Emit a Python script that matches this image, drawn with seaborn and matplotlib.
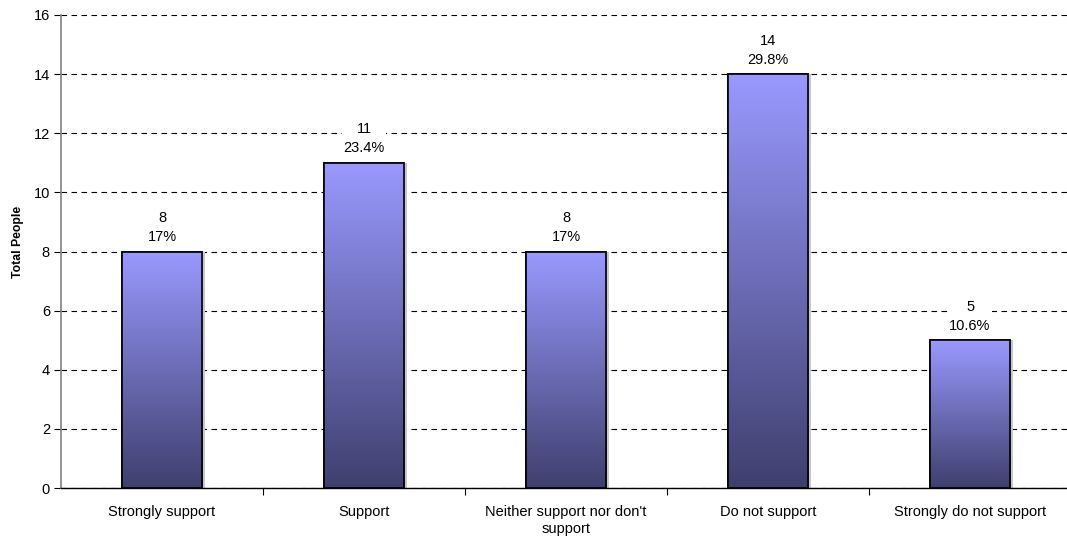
import matplotlib
matplotlib.use("Agg")
import matplotlib.pyplot as plt
import numpy as np
import pandas as pd
import seaborn as sns
from matplotlib.colors import LinearSegmentedColormap
from matplotlib.patches import Rectangle

categories = ["Strongly support", "Support", "Neither support nor don't\nsupport",
              "Do not support", "Strongly do not support"]
counts = [8, 11, 8, 14, 5]
percents = ["17%", "23.4%", "17%", "29.8%", "10.6%"]

df = pd.DataFrame({"category": categories, "count": counts})

sns.set_style("white")
plt.rcParams["font.family"] = ["Liberation Sans", "DejaVu Sans"]
plt.rcParams["text.color"] = "black"
plt.rcParams["xtick.color"] = "black"
plt.rcParams["ytick.color"] = "black"
plt.rcParams["axes.labelcolor"] = "black"

fig = plt.figure(figsize=(10.67, 5.41), dpi=100)
ax = fig.add_axes([61 / 1067, 1 - 488 / 541, 1 - 61 / 1067, (488 - 15) / 541])

sns.barplot(data=df, x="category", y="count", ax=ax, width=0.4,
            color="#9999ff", edgecolor="black", linewidth=1.2, zorder=3)

cmap = LinearSegmentedColormap.from_list("grad", ["#3f3f6e", "#9999ff"])
grad = np.linspace(0, 1, 256).reshape(-1, 1)
for p in ax.patches:
    x0, y0, w, h = p.get_x(), p.get_y(), p.get_width(), p.get_height()
    # soft shadow on the right
    ax.add_patch(Rectangle((x0 + 0.015, y0), w, h, facecolor="#c8c8c8",
                           edgecolor="none", zorder=2))
    im = ax.imshow(grad, extent=(x0, x0 + w, y0, y0 + h), origin="lower",
                   cmap=cmap, aspect="auto", zorder=3.5)
    im.set_clip_path(p)
    ax.add_patch(Rectangle((x0, y0), w, h, facecolor="none",
                           edgecolor="black", linewidth=1.2, zorder=4))

for i, (c, pc) in enumerate(zip(counts, percents)):
    ax.text(i, c + 0.25, f"{c}\n{pc}", ha="center", va="bottom",
            fontsize=10.5, linespacing=1.45, zorder=5,
            bbox=dict(facecolor="white", edgecolor="none", pad=1))

ax.set_xlim(-0.5, 4.48)
ax.set_ylim(0, 16)
ax.set_yticks(range(0, 17, 2))
ax.yaxis.grid(True, linestyle=(0, (5, 4)), color="black", linewidth=0.8)
ax.set_axisbelow(True)

ax.set_xlabel("")
ax.set_ylabel("Total People", fontsize=8.8, fontweight="bold")
ax.yaxis.set_label_coords(-0.037, 0.52)
ax.tick_params(axis="y", which="major", left=True, length=5, width=0.8,
               labelsize=10.5, color="black", pad=3)
ax.tick_params(axis="x", which="major", bottom=False, labelsize=10.5, pad=9)
for lab in ax.get_xticklabels():
    lab.set_linespacing(1.25)
ax.set_xticks(np.arange(0.5, 4.5, 1), minor=True)
ax.tick_params(axis="x", which="minor", bottom=True, length=5, width=0.8,
               color="black")

for s in ["top", "right"]:
    ax.spines[s].set_visible(False)
ax.spines["left"].set_color("#808080")
ax.spines["left"].set_linewidth(1.2)
ax.spines["bottom"].set_color("black")
ax.spines["bottom"].set_linewidth(1)

fig.savefig("out.png", dpi=100)
